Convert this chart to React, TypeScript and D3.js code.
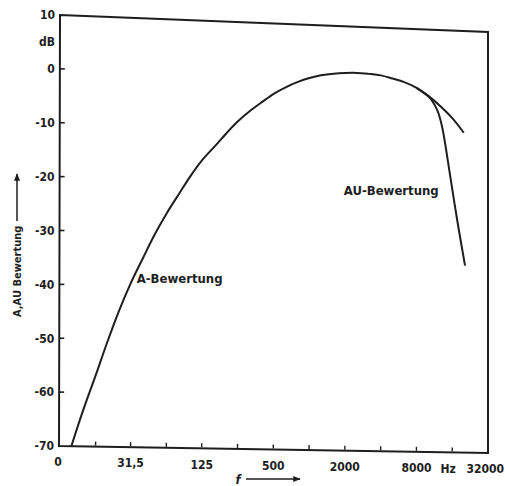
import React, { useRef, useEffect } from "react"
import * as d3 from "d3"

// A-weighting, frequency in Hz, level in dB
const aFreq = [10, 12.5, 16, 20, 25, 31.5, 40, 50, 63, 80, 100, 125, 160, 200, 250, 315, 400, 500, 630, 800, 1000, 1250, 1600, 2000, 2500, 3150, 4000, 5000, 6300, 8000, 10000, 12500, 16000, 20000]
const aLevel = [-70, -63.4, -56.7, -50.5, -44.7, -39.4, -34.6, -30.2, -26.2, -22.5, -19.1, -16.1, -13.4, -10.9, -8.6, -6.6, -4.8, -3.2, -1.9, -0.8, 0, 0.6, 1.0, 1.2, 1.3, 1.2, 1.0, 0.5, -0.1, -1.1, -2.5, -4.3, -6.6, -9.3]

// AU-weighting, leaves the A curve near 10 kHz
const auFreq = [8000, 10000, 10700, 12000, 13100, 15400, 17600, 20500]
const auLevel = [-1.1, -2.6, -3.3, -5.3, -8.2, -17.7, -25.9, -34.5]

const yTicks = [10, 0, -10, -20, -30, -40, -50, -60, -70]
const yTickLabels = ["10", "0", "-10", "-20", "-30", "-40", "-50", "-60", "-70"]

const xTickFreqs = [7.875, 31.5, 125, 500, 2000, 8000, 32000]
const xTickLabels = ["0", "31,5", "125", "500", "2000", "8000", "32000"]
const octaveTicks = [16, 31.5, 63, 125, 250, 500, 1000, 2000, 4000, 8000, 16000]

const font = "'DejaVu Sans Condensed', 'Liberation Sans Narrow', 'DejaVu Sans', sans-serif"
const ink = "#1e1e1e"

// corners of the (slightly skewed) scanned frame
const TL = [60, 15], TR = [488, 32], BL = [59, 446], BR = [488, 453]

function warp(u: number, v: number): [number, number] {
  const tx = TL[0] + (TR[0] - TL[0]) * u, ty = TL[1] + (TR[1] - TL[1]) * u
  const bx = BL[0] + (BR[0] - BL[0]) * u, by = BL[1] + (BR[1] - BL[1]) * u
  return [tx + (bx - tx) * v, ty + (by - ty) * v]
}

function DrawChart() {
  const ref = useRef<SVGSVGElement>(null)

  useEffect(() => {
    const svg = d3.select(ref.current)
    svg.selectAll("*").remove()

    const x = d3.scaleLog().domain([7.875, 32000]).range([0, 1])
    const y = d3.scaleLinear().domain([10, -70]).range([0, 1])
    const pt = (f: number, db: number) => warp(x(f), y(db))

    // frame
    const frame = [warp(0, 0), warp(1, 0), warp(1, 1), warp(0, 1)]
    svg.append("path")
      .attr("d", "M" + frame.map(p => p.join(",")).join("L") + "Z")
      .attr("fill", "none")
      .attr("stroke", ink)
      .attr("stroke-width", 2)

    // y ticks + labels
    yTicks.forEach((t, i) => {
      const [px, py] = warp(0, y(t))
      if (t !== 10 && t !== -70) {
        svg.append("line")
          .attr("x1", px).attr("x2", px + 5)
          .attr("y1", py).attr("y2", py)
          .attr("stroke", ink).attr("stroke-width", 1.6)
      }
      svg.append("text")
        .attr("x", px - 5)
        .attr("y", py)
        .attr("dy", "0.36em")
        .attr("text-anchor", "end")
        .style("font-family", font)
        .style("font-size", "12px")
        .style("font-weight", "bold")
        .attr("fill", ink)
        .text(yTickLabels[i])
    })
    const [dbx, dby] = warp(0, y(5))
    svg.append("text")
      .attr("x", dbx - 5).attr("y", dby).attr("dy", "0.36em")
      .attr("text-anchor", "end")
      .style("font-family", font).style("font-size", "12px").style("font-weight", "bold")
      .attr("fill", ink)
      .text("dB")

    // x octave ticks
    octaveTicks.forEach(f => {
      const [px, py] = warp(x(f), 1)
      svg.append("line")
        .attr("x1", px).attr("x2", px)
        .attr("y1", py - 1).attr("y2", py - 5)
        .attr("stroke", ink).attr("stroke-width", 1.4)
    })
    xTickFreqs.forEach((f, i) => {
      const [px, py] = warp(x(f), 1)
      const last = i === xTickFreqs.length - 1
      svg.append("text")
        .attr("x", last ? 504 : i === 0 ? px - 1 : px)
        .attr("y", py + 16)
        .attr("dy", "0.36em")
        .attr("text-anchor", last ? "end" : "middle")
        .style("font-family", font).style("font-size", "12px").style("font-weight", "bold")
        .attr("fill", ink)
        .text(xTickLabels[i])
    })
    const [hzx, hzy] = warp(x(16000), 1)
    svg.append("text")
      .attr("x", hzx - 4).attr("y", hzy + 16).attr("dy", "0.36em")
      .attr("text-anchor", "middle")
      .style("font-family", font).style("font-size", "12px").style("font-weight", "bold")
      .attr("fill", ink)
      .text("Hz")

    // curves
    const line = d3.line<[number, number]>()
      .x(d => d[0]).y(d => d[1])
      .curve(d3.curveCatmullRom.alpha(0.5))

    svg.append("path")
      .attr("d", line(aFreq.map((f, i) => pt(f, aLevel[i]))))
      .attr("fill", "none").attr("stroke", ink).attr("stroke-width", 2)

    svg.append("path")
      .attr("d", line(auFreq.map((f, i) => pt(f, auLevel[i]))))
      .attr("fill", "none").attr("stroke", ink).attr("stroke-width", 2)

    // curve labels
    const [ax, ay] = pt(81, -38.3)
    svg.append("text")
      .attr("x", ax).attr("y", ay).attr("dy", "0.36em")
      .attr("text-anchor", "middle")
      .style("font-family", font).style("font-size", "13px").style("font-weight", "bold")
      .attr("fill", ink)
      .text("A-Bewertung")
    const [aux, auy] = pt(4900, -20.6)
    svg.append("text")
      .attr("x", aux).attr("y", auy).attr("dy", "0.36em")
      .attr("text-anchor", "middle")
      .style("font-family", font).style("font-size", "13px").style("font-weight", "bold")
      .attr("fill", ink)
      .text("AU-Bewertung")

    // axis titles
    svg.append("defs").append("marker")
      .attr("id", "arrow")
      .attr("viewBox", "0 0 10 10")
      .attr("refX", 9).attr("refY", 5)
      .attr("markerWidth", 5).attr("markerHeight", 5)
      .attr("orient", "auto")
      .append("path").attr("d", "M0,1L10,5L0,9Z").attr("fill", ink)

    svg.append("text")
      .attr("transform", "translate(21,317) rotate(-90)")
      .style("font-family", font).style("font-size", "11px").style("font-weight", "bold")
      .attr("fill", ink)
      .text("A,AU Bewertung")
    svg.append("line")
      .attr("x1", 17).attr("x2", 17).attr("y1", 221).attr("y2", 174)
      .attr("stroke", ink).attr("stroke-width", 1.5)
      .attr("marker-end", "url(#arrow)")

    svg.append("text")
      .attr("x", 238).attr("y", 484)
      .attr("text-anchor", "middle")
      .style("font-family", font).style("font-size", "13px").style("font-weight", "bold")
      .style("font-style", "italic")
      .attr("fill", ink)
      .text("f")
    svg.append("line")
      .attr("x1", 246).attr("x2", 300).attr("y1", 479).attr("y2", 479)
      .attr("stroke", ink).attr("stroke-width", 1.5)
      .attr("marker-end", "url(#arrow)")
  }, [])

  return (
    <svg
      ref={ref}
      width={505}
      height={486}
      style={{ position: "absolute", left: 0, top: 0, background: "#fff" }}
    ></svg>
  )
}

export default function App() {
  return <DrawChart />
}
